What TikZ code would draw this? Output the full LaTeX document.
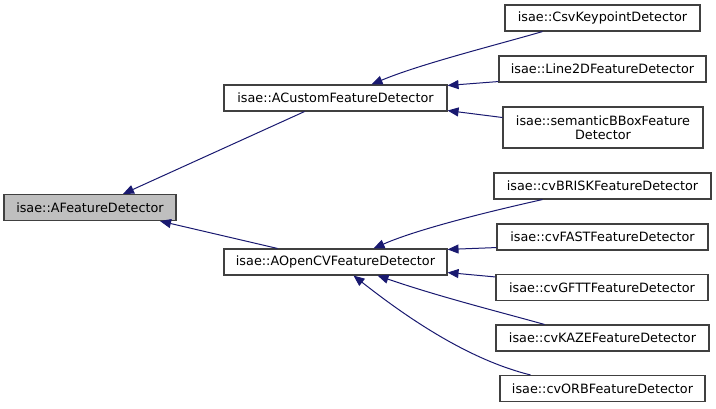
\documentclass[tikz,border=0pt]{standalone}
\usepackage{fontspec}
\setmainfont{DejaVu Sans}
\usetikzlibrary{arrows.meta}
\definecolor{edgeblue}{HTML}{191970}
\definecolor{boxline}{HTML}{404040}
\definecolor{basefill}{HTML}{BFBFBF}
\tikzset{
  cls/.style={draw=boxline, line width=1.1pt, fill=white, inner sep=0pt, align=center,
    font=\fontsize{12.8}{14.5}\selectfont, minimum height=26pt},
  edge/.style={draw=edgeblue, line width=1pt, {Triangle[length=11pt,width=9pt]}-},
}
\begin{document}
\begin{tikzpicture}[x=1pt,y=-1pt]
\useasboundingbox (0,0) rectangle (716,408);
\node[cls, fill=basefill, minimum width=172pt] (afd) at (90,207.5) {isae::AFeatureDetector};
\node[cls, minimum width=223pt] (acu) at (335.5,98) {isae::ACustomFeatureDetector};
\node[cls, minimum width=223pt] (aocv) at (335.5,262) {isae::AOpenCVFeatureDetector};
\node[cls, minimum width=195pt] (csv) at (602.5,18) {isae::CsvKeypointDetector};
\node[cls, minimum width=207pt] (l2d) at (602.5,69) {isae::Line2DFeatureDetector};
\node[cls, minimum width=200pt, minimum height=41pt] (sem) at (603,127.5) {isae::semanticBBoxFeature\\Detector};
\node[cls, minimum width=217pt] (brisk) at (602.5,186) {isae::cvBRISKFeatureDetector};
\node[cls, minimum width=211pt] (fast) at (602.5,237) {isae::cvFASTFeatureDetector};
\node[cls, minimum width=212pt] (gftt) at (602,287.5) {isae::cvGFTTFeatureDetector};
\node[cls, minimum width=213pt] (kaze) at (602.5,338) {isae::cvKAZEFeatureDetector};
\node[cls, minimum width=205pt] (orb) at (602.5,388.5) {isae::cvORBFeatureDetector};

\draw[edge] ([xshift=33pt]afd.north) -- ([xshift=-31pt]acu.south);
\draw[edge] ([xshift=70pt]afd.south) -- ([xshift=-58pt]aocv.north);

\draw[edge] ([xshift=36pt]acu.north) .. controls (420,64) and (500,44) .. ([xshift=-60pt]csv.south);
\draw[edge] ([yshift=-1pt]acu.north east) -- ([yshift=1pt]l2d.south west);
\draw[edge] ([yshift=1pt]acu.south east) -- ([yshift=10pt]sem.west);

\draw[edge] ([xshift=38pt]aocv.north) .. controls (420,228) and (500,209) .. ([xshift=-60pt]brisk.south);
\draw[edge] ([yshift=-1pt]aocv.north east) -- ([yshift=3pt]fast.south west);
\draw[edge] ([yshift=3pt]aocv.south east) -- ([yshift=-3pt]gftt.north west);
\draw[edge] ([xshift=42pt]aocv.south) .. controls (440,297) and (500,312) .. ([xshift=-58pt]kaze.north);
\draw[edge] ([xshift=18pt]aocv.south) .. controls (410,320) and (470,360) .. ([xshift=-72pt]orb.north);
\end{tikzpicture}
\end{document}
